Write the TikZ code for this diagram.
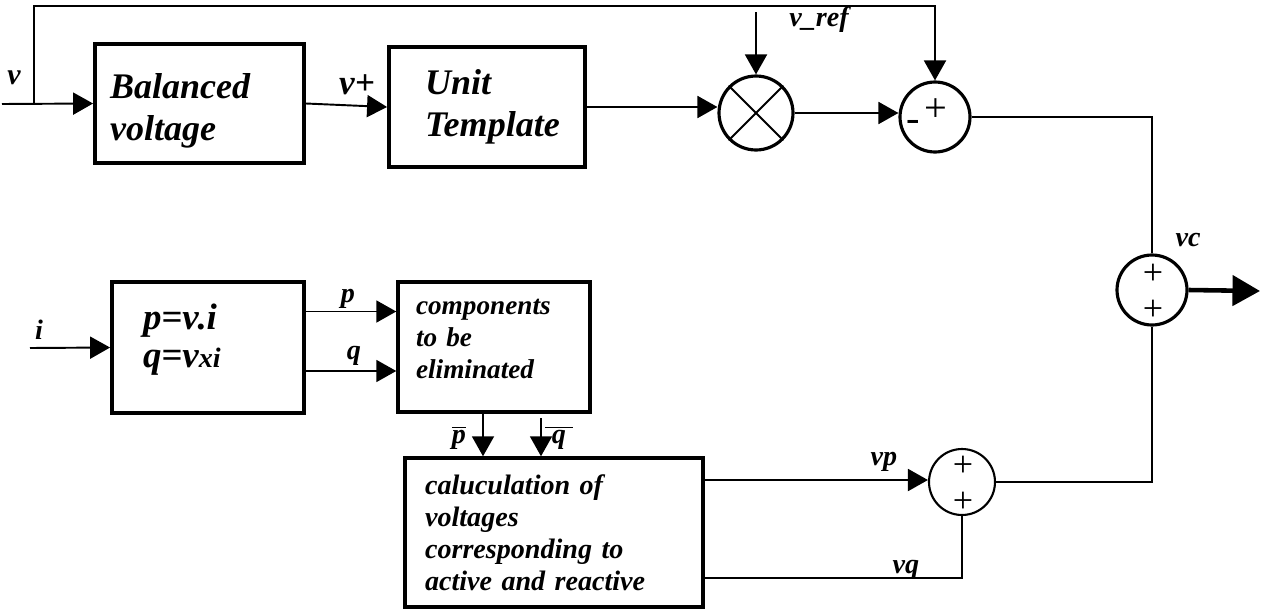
\documentclass[tikz,border=0pt]{standalone}
\usepackage{fontspec}
\setmainfont{Liberation Serif}
\usetikzlibrary{arrows.meta, positioning, shapes.geometric}

\begin{document}
\begin{tikzpicture}[x=0.02cm, y=-0.02cm,
    every node/.style={font=\bfseries\itshape},
    bigbox/.style={rectangle, draw, line width=2.2pt, inner sep=0pt, align=left, font=\fontsize{20.5}{24}\selectfont\bfseries\itshape},
    eqbox/.style={rectangle, draw, line width=2.2pt, inner sep=0pt, align=left, font=\fontsize{21}{22}\selectfont\bfseries\itshape},
    smallbox/.style={rectangle, draw, line width=2pt, inner sep=0pt, align=left, font=\fontsize{15.5}{18.3}\selectfont\bfseries\itshape},
    sumnode/.style={circle, draw, line width=1.8pt, inner sep=0pt, minimum size=1.4cm},
    sgn/.style={font=\normalfont\fontsize{23}{23}\selectfont, inner sep=0pt, text height=0.3cm, text depth=0pt},
    twosgn/.style={font=\normalfont\fontsize{20.5}{20.5}\selectfont, inner sep=0pt, align=center},
    lbl/.style={font=\fontsize{16}{16}\selectfont\bfseries\itshape, inner sep=0pt},
    flow/.style={-{Triangle[length=0.4cm,width=0.44cm]}, line width=1.1pt},
    bigflow/.style={-{Triangle[length=0.55cm,width=0.6cm]}, line width=2.6pt},
    wire/.style={line width=1.1pt}
]
\useasboundingbox (0,0) rectangle (1262,609);

% upper path
\node[bigbox, minimum width=4.18cm, minimum height=2.38cm, text width=3.58cm] (bal) at (199.5,103.5) {\rule{0pt}{0.8cm}Balanced\\voltage};
\node[bigbox, minimum width=3.92cm, minimum height=2.4cm, text width=2.48cm] (unit) at (487,107) {Unit\\Template};
\node[sumnode, minimum size=1.48cm] (mul) at (756,113) {};
\node[sumnode] (sum1) at (935,117) {};
\node[sumnode] (sum3) at (1152,290) {};

\coordinate (vin) at (2,104);
\coordinate (fb) at (34,104);
\coordinate (fbtop) at (34,6);
\coordinate (vref) at (756,12);
\coordinate (out) at (1260,291);

\draw[wire] (mul.north west) -- (mul.south east);
\draw[wire] (mul.north east) -- (mul.south west);

\draw[flow] (vin) -- (bal.west);
\draw[flow] (fb) -- (fbtop) -| (sum1.north);
\draw[flow] (bal.east) -- (unit.west);
\draw[flow] (unit.east) -- (mul.west |- unit.east);
\draw[flow] (vref) -- (mul.north);
\draw[flow] (mul.east) -- (mul.east -| sum1.west);
\draw[wire] (sum1.east) -| (sum3.north);
\draw[bigflow] (sum3.east) -- (out);

\node[lbl, font=\fontsize{17}{17}\selectfont\bfseries\itshape] (vlbl) at (14,78) {v};
\node[lbl, font=\fontsize{20}{20}\selectfont\bfseries\itshape] (vplus) at (357,85) {v+};
\node[lbl] (vreflbl) at (819,20) {v\_ref};
\node[lbl] (vclbl) at (1188,240) {vc};

\node[sgn] (s1minus) at ([shift={(-22,7)}]sum1.center) {-};
\node[sgn] (s1plus) at ([shift={(1,-3)}]sum1.center) {+};
\node[twosgn] (s3plus) at ([shift={(1,2)}]sum3.center) {+\\+};

% lower path
\node[eqbox, minimum width=3.84cm, minimum height=2.62cm, text width=2.6cm] (pq) at (208,347.5) {p=v.i\\q=v{\fontsize{16}{16}\selectfont xi}\\[-0.3cm]\mbox{}};
\node[smallbox, minimum width=3.84cm, minimum height=2.6cm, text width=3.12cm] (comp) at (494,347) {components\\to be\\eliminated\\[-0.32cm]\mbox{}};
\node[smallbox, font=\fontsize{16}{18.3}\selectfont\bfseries\itshape, minimum width=5.96cm, minimum height=2.98cm, text width=5.16cm] (calc) at (554,532.5) {caluculation of\\voltages\\corresponding to\\active and reactive};
\node[sumnode, line width=1.2pt, minimum size=1.32cm] (sum2) at (962,482) {};

\coordinate (iin) at (30,348);
\coordinate (qb) at (541,418);

\draw[flow] (iin) -- (pq.west);
\draw[flow] ([yshift=0.72cm]pq.east) -- ([yshift=0.72cm]pq.east -| comp.west);
\draw[flow] ([yshift=-0.47cm]pq.east) -- ([yshift=-0.47cm]pq.east -| comp.west);
\draw[flow] ([xshift=-0.22cm]comp.south) -- ([xshift=-0.22cm]comp.south |- calc.north);
\draw[flow] (qb) -- (qb |- calc.north);
\draw[flow] ([yshift=1.05cm]calc.east) -- ([yshift=1.05cm]calc.east -| sum2.west);
\draw[wire] ([yshift=-0.91cm]calc.east) -| (sum2.south);
\draw[wire] (sum2.east) -| (sum3.south);

\node[lbl] (ilbl) at (39,330) {i};
\node[lbl] (plbl) at (348,299) {p};
\node[lbl] (qlbl) at (354,356) {q};
\node[lbl] (pbar) at (459,438) {$\overline{\textbf{\textit{p}}}$};
\node[lbl] (qbar) at (559,438) {$\overline{\textbf{\textit{~q~}}}$};
\node[lbl] (vplbl) at (884,462) {vp};
\node[lbl] (vqlbl) at (906,570) {vq};

\node[twosgn] (s2plus) at ([shift={(1,2)}]sum2.center) {+\\+};

\end{tikzpicture}
\end{document}
